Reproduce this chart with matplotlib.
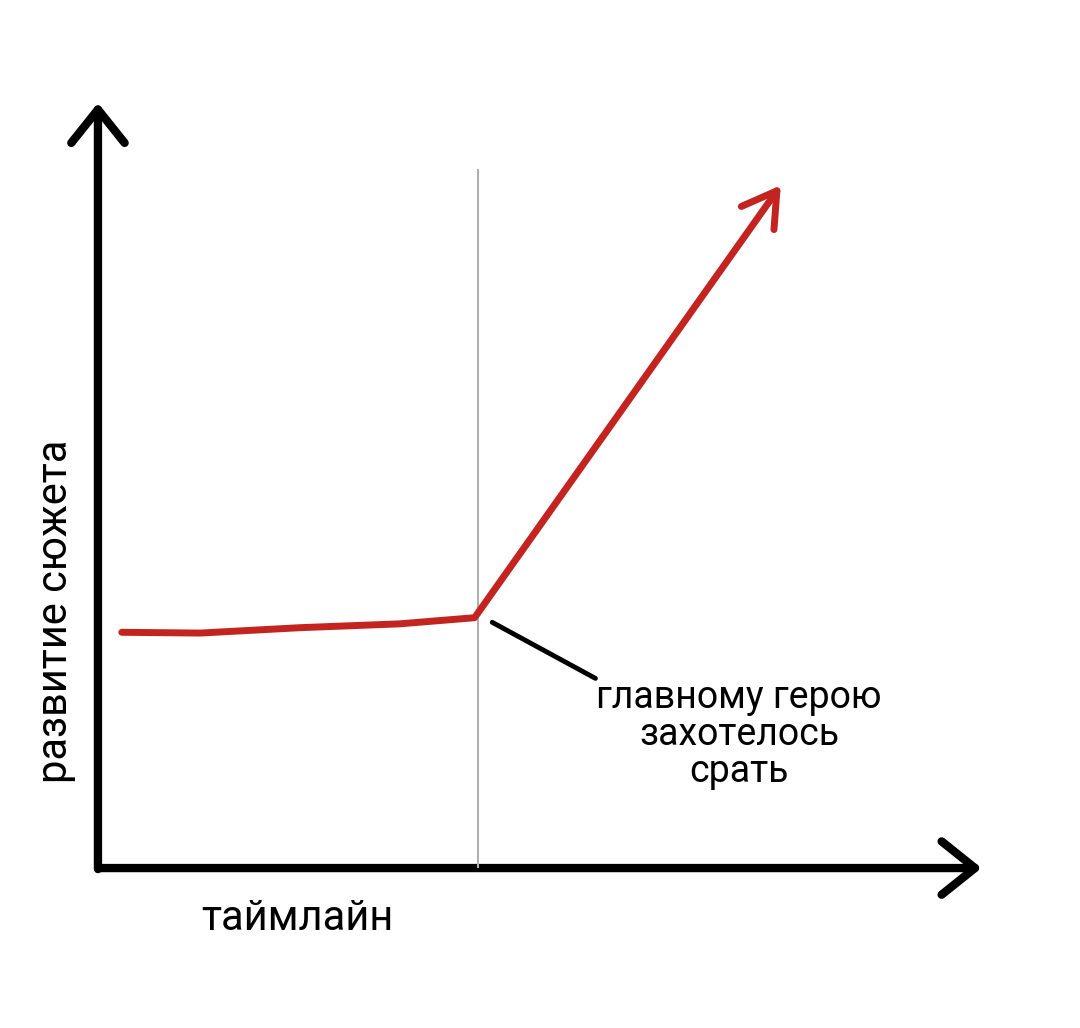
import matplotlib.pyplot as plt
from matplotlib.patches import FancyArrowPatch

plt.rcParams['font.family'] = ['Roboto', 'DejaVu Sans']

# данные: таймлайн / развитие сюжета (условные единицы 0..100)
timeline = [2.7, 11.6, 22.9, 34.2, 42.7, 77.6]
plot_dev = [30.7, 30.6, 31.3, 31.8, 32.6, 89.2]
event_x = 43.1
event_top = 90.9
pointer_x = [44.7, 56.4]
pointer_y = [32.0, 24.7]

xlabel = 'таймлайн'
ylabel = 'развитие сюжета'
note = 'главному герою\nзахотелось\nсрать'

fig = plt.figure(figsize=(10.8, 10.28), dpi=100)
ax = fig.add_axes([0.0907, 0.1556, 0.8167, 0.747])
ax.set_xlim(0, 100)
ax.set_ylim(0, 100)
ax.axis('off')

# оси со стрелками
for start, end in [((0, -0.5), (0, 100)), ((-0.3, 0), (100.5, 0))]:
    ax.add_patch(FancyArrowPatch(start, end, arrowstyle='->,head_length=0.75,head_width=0.6',
                                 mutation_scale=32, color='black', lw=6,
                                 capstyle='round', joinstyle='round', clip_on=False))

# вертикальная линия события
ax.plot([event_x, event_x], [0, event_top], color='#b0b0b0', lw=1.5, zorder=1)

# красная линия
ax.plot(timeline[:-1], plot_dev[:-1], color='#c42420', lw=5,
        solid_capstyle='round', solid_joinstyle='round', zorder=3)
ax.add_patch(FancyArrowPatch((timeline[-2], plot_dev[-2]), (timeline[-1], plot_dev[-1]),
                             arrowstyle='->,head_length=0.75,head_width=0.45',
                             mutation_scale=32, color='#c42420', lw=5,
                             capstyle='round', joinstyle='round', zorder=3, clip_on=False))

# указатель
ax.plot(pointer_x, pointer_y, color='black', lw=3.5, solid_capstyle='round')

ax.text(72.7, 24.6, note, ha='center', va='top', fontsize=27, linespacing=1.0)
fig.text(0.275, 0.107, xlabel, ha='center', va='center', fontsize=30)
fig.text(0.051, 0.405, ylabel, ha='center', va='center', fontsize=30, rotation=90)

plt.savefig('out.png', dpi=100, facecolor='white')
